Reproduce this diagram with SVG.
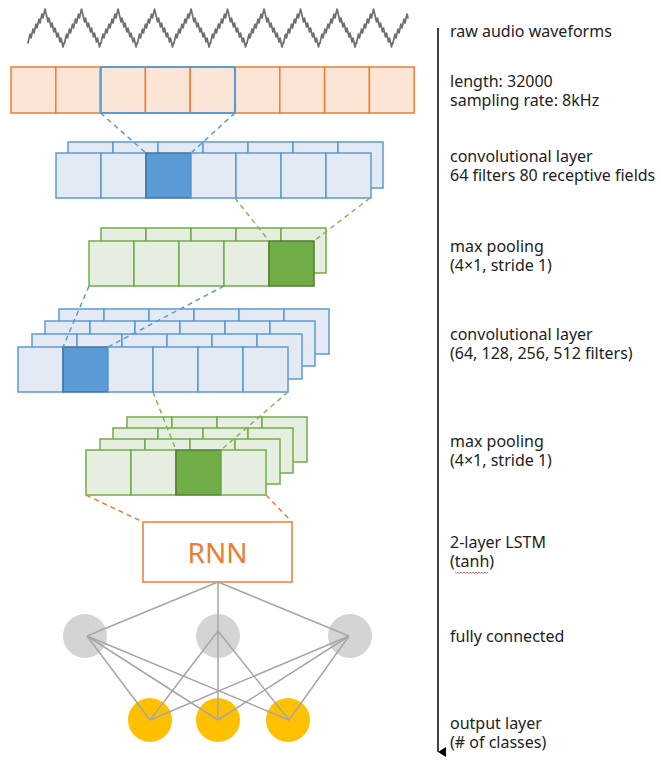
<svg xmlns="http://www.w3.org/2000/svg" xmlns:xlink="http://www.w3.org/1999/xlink" width="661" height="761" viewBox="0 0 661 761">
<style>
.lbl{font-family:"Noto Sans","Open Sans",sans-serif;font-size:16px;fill:#222}
.oc{fill:#FBE5D6;stroke:#ED7D31;stroke-width:1.5}
.bc{fill:#E4EAF4;stroke:#5B9BD5;stroke-width:1.5}
.bh{fill:#5B9BD5;stroke:#41719C;stroke-width:1.5}
.gc{fill:#E6EDE1;stroke:#70AD47;stroke-width:1.5}
.gh{fill:#70AD47;stroke:#507E32;stroke-width:1.5}
.dash{fill:none;stroke-width:1.5;stroke-dasharray:5 4}
.fc{stroke:#A6A6A6;stroke-width:1.5;fill:none}
.wave{fill:none;stroke:#707070;stroke-width:1.7;stroke-linejoin:round;stroke-linecap:round}
</style>
<defs>
<path id="wp" d="M0,0 l2,-9 1,4 2,-9 1,4 2,-9 1,4 2,-9 1,4 2,-9 1,4 2,-9 1,4 2,9 1,-4 2,9 1,-4 2,9 1,-4 2,9 1,-4 2,9 1,-4 2,9 1,-4 0.5,0"/>
<marker id="arr" markerWidth="10" markerHeight="10" refX="5" refY="9" orient="auto-start-reverse" markerUnits="userSpaceOnUse" viewBox="0 0 10 10">
<path d="M0,1 L10,1 L5,9 Z" fill="#000"/>
</marker>
</defs>
<rect width="661" height="761" fill="#fff"/>

<g id="waveform" class="wave">
<use xlink:href="#wp" href="#wp" transform="translate(28,43)"/>
<use xlink:href="#wp" href="#wp" transform="translate(64.5,43)"/>
<use xlink:href="#wp" href="#wp" transform="translate(101,43)"/>
<use xlink:href="#wp" href="#wp" transform="translate(137.5,43)"/>
<use xlink:href="#wp" href="#wp" transform="translate(174,43)"/>
<use xlink:href="#wp" href="#wp" transform="translate(210.5,43)"/>
<use xlink:href="#wp" href="#wp" transform="translate(247,43)"/>
<use xlink:href="#wp" href="#wp" transform="translate(283.5,43)"/>
<use xlink:href="#wp" href="#wp" transform="translate(320,43)"/>
<use xlink:href="#wp" href="#wp" transform="translate(356.5,43)"/>
<path d="M393,43 l2,-9 1,4 2,-9 1,4 2,-9 1,4 2,-9 1,4 2,-9 1,4"/>
</g>

<g id="input-sequence">
<rect class="oc" x="11" y="67" width="44.8" height="46"/>
<rect class="oc" x="55.8" y="67" width="44.8" height="46"/>
<rect class="oc" x="100.6" y="67" width="44.8" height="46"/>
<rect class="oc" x="145.4" y="67" width="44.8" height="46"/>
<rect class="oc" x="190.2" y="67" width="44.8" height="46"/>
<rect class="oc" x="235" y="67" width="44.8" height="46"/>
<rect class="oc" x="279.8" y="67" width="44.8" height="46"/>
<rect class="oc" x="324.6" y="67" width="44.8" height="46"/>
<rect class="oc" x="369.4" y="67" width="44.8" height="46"/>
<rect x="100.6" y="67" width="134.4" height="46" rx="2" fill="none" stroke="#5B9BD5" stroke-width="2.2"/>
</g>

<g id="conv1">
<g transform="translate(68,142)">
<rect class="bc" x="0" y="0" width="45" height="46"/><rect class="bc" x="45" y="0" width="45" height="46"/><rect class="bc" x="90" y="0" width="45" height="46"/><rect class="bc" x="135" y="0" width="45" height="46"/><rect class="bc" x="180" y="0" width="45" height="46"/><rect class="bc" x="225" y="0" width="45" height="46"/><rect class="bc" x="270" y="0" width="45" height="46"/>
</g>
<g transform="translate(56,153)">
<rect class="bc" x="0" y="0" width="45" height="45"/><rect class="bc" x="45" y="0" width="45" height="45"/><rect class="bh" x="90" y="0" width="45" height="45"/><rect class="bc" x="135" y="0" width="45" height="45"/><rect class="bc" x="180" y="0" width="45" height="45"/><rect class="bc" x="225" y="0" width="45" height="45"/><rect class="bc" x="270" y="0" width="45" height="45"/>
</g>
</g>

<g id="pool1">
<g transform="translate(101,228)">
<rect class="gc" x="0" y="0" width="45" height="45"/><rect class="gc" x="45" y="0" width="45" height="45"/><rect class="gc" x="90" y="0" width="45" height="45"/><rect class="gc" x="135" y="0" width="45" height="45"/><rect class="gc" x="180" y="0" width="45" height="45"/>
</g>
<g transform="translate(89,241)">
<rect class="gc" x="0" y="0" width="45" height="45"/><rect class="gc" x="45" y="0" width="45" height="45"/><rect class="gc" x="90" y="0" width="45" height="45"/><rect class="gc" x="135" y="0" width="45" height="45"/><rect class="gh" x="180" y="0" width="45" height="45"/>
</g>
</g>

<g id="conv2">
<g transform="translate(59,309)">
<rect class="bc" x="0" y="0" width="45" height="45"/><rect class="bc" x="45" y="0" width="45" height="45"/><rect class="bc" x="90" y="0" width="45" height="45"/><rect class="bc" x="135" y="0" width="45" height="45"/><rect class="bc" x="180" y="0" width="45" height="45"/><rect class="bc" x="225" y="0" width="45" height="45"/>
</g>
<g transform="translate(45,321)">
<rect class="bc" x="0" y="0" width="45" height="45"/><rect class="bc" x="45" y="0" width="45" height="45"/><rect class="bc" x="90" y="0" width="45" height="45"/><rect class="bc" x="135" y="0" width="45" height="45"/><rect class="bc" x="180" y="0" width="45" height="45"/><rect class="bc" x="225" y="0" width="45" height="45"/>
</g>
<g transform="translate(32,334)">
<rect class="bc" x="0" y="0" width="45" height="45"/><rect class="bc" x="45" y="0" width="45" height="45"/><rect class="bc" x="90" y="0" width="45" height="45"/><rect class="bc" x="135" y="0" width="45" height="45"/><rect class="bc" x="180" y="0" width="45" height="45"/><rect class="bc" x="225" y="0" width="45" height="45"/>
</g>
<g transform="translate(18,347)">
<rect class="bc" x="0" y="0" width="45" height="45"/><rect class="bh" x="45" y="0" width="45" height="45"/><rect class="bc" x="90" y="0" width="45" height="45"/><rect class="bc" x="135" y="0" width="45" height="45"/><rect class="bc" x="180" y="0" width="45" height="45"/><rect class="bc" x="225" y="0" width="45" height="45"/>
</g>
</g>

<g id="pool2">
<g transform="translate(127,417)">
<rect class="gc" x="0" y="0" width="45" height="45"/><rect class="gc" x="45" y="0" width="45" height="45"/><rect class="gc" x="90" y="0" width="45" height="45"/><rect class="gc" x="135" y="0" width="45" height="45"/>
</g>
<g transform="translate(113,428)">
<rect class="gc" x="0" y="0" width="45" height="45"/><rect class="gc" x="45" y="0" width="45" height="45"/><rect class="gc" x="90" y="0" width="45" height="45"/><rect class="gc" x="135" y="0" width="45" height="45"/>
</g>
<g transform="translate(100,439)">
<rect class="gc" x="0" y="0" width="45" height="45"/><rect class="gc" x="45" y="0" width="45" height="45"/><rect class="gc" x="90" y="0" width="45" height="45"/><rect class="gc" x="135" y="0" width="45" height="45"/>
</g>
<g transform="translate(86,450)">
<rect class="gc" x="0" y="0" width="45" height="45"/><rect class="gc" x="45" y="0" width="45" height="45"/><rect class="gh" x="90" y="0" width="45" height="45"/><rect class="gc" x="135" y="0" width="45" height="45"/>
</g>
</g>

<g id="rnn">
<rect x="143" y="522" width="149" height="60" fill="#fff" stroke="#ED7D31" stroke-width="1.5"/>
<text x="217.5" y="563" text-anchor="middle" font-family="Noto Sans, Open Sans, sans-serif" font-size="28" fill="#ED7D31">RNN</text>
</g>

<g id="fc-layer" fill="#D4D4D4">
<circle cx="85" cy="636" r="22"/>
<circle cx="218" cy="636" r="22"/>
<circle cx="350" cy="636" r="22"/>
</g>

<g id="output-layer" fill="#FFC000">
<circle cx="150" cy="720" r="22"/>
<circle cx="218" cy="720" r="22"/>
<circle cx="288" cy="720" r="22"/>
</g>

<g id="connectors">
<path class="dash" stroke="#5B9BD5" d="M100.6,113 L146,153 M235,113 L191,153"/>
<path class="dash" stroke="#8DB255" d="M235,198 L269,241 M370,198 L314,241"/>
<path class="dash" stroke="#5B9BD5" d="M89,286 L63,347 M224,286 L108,347"/>
<path class="dash" stroke="#8DB255" d="M153,392 L176,450 M288,392 L221,450"/>
<path class="dash" stroke="#ED7D31" d="M86,495 L143,522 M266,495 L292,522"/>
<g class="fc">
<path d="M218,582 L87,636 M218,582 L349,636 M218,582 L218,720"/>
<path d="M87,636 L150,720 M87,636 L218,720 M87,636 L289,720"/>
<path d="M218,631 L150,720 M218,631 L289,720"/>
<path d="M349,636 L150,720 M349,636 L218,720 M349,636 L289,720"/>
</g>
<line x1="438" y1="28" x2="438" y2="752" stroke="#000" stroke-width="1.5" marker-end="url(#arr)"/>
</g>

<g id="labels" class="lbl">
<text x="450" y="37">raw audio waveforms</text>
<text x="450" y="87">length: 32000</text>
<text x="450" y="106">sampling rate: 8kHz</text>
<text x="450" y="162">convolutional layer</text>
<text x="450" y="181">64 filters 80 receptive fields</text>
<text x="450" y="252">max pooling</text>
<text x="450" y="271">(4×1, stride 1)</text>
<text x="450" y="340">convolutional layer</text>
<text x="450" y="359">(64, 128, 256, 512 filters)</text>
<text x="450" y="447">max pooling</text>
<text x="450" y="466">(4×1, stride 1)</text>
<text x="450" y="548">2-layer LSTM</text>
<text x="450" y="567">(tanh)</text>
<text x="450" y="642">fully connected</text>
<text x="450" y="729">output layer</text>
<text x="450" y="748">(# of classes)</text>
</g>
<path d="M455,572 l1.5,1.5 1.5,-1.5 1.5,1.5 1.5,-1.5 1.5,1.5 1.5,-1.5 1.5,1.5 1.5,-1.5 1.5,1.5 1.5,-1.5 1.5,1.5 1.5,-1.5 1.5,1.5 1.5,-1.5 1.5,1.5 1.5,-1.5 1.5,1.5 1.5,-1.5 1.5,1.5 1.5,-1.5 1.5,1.5 1.5,-1.5" fill="none" stroke="#E04040" stroke-width="0.8"/>
</svg>
